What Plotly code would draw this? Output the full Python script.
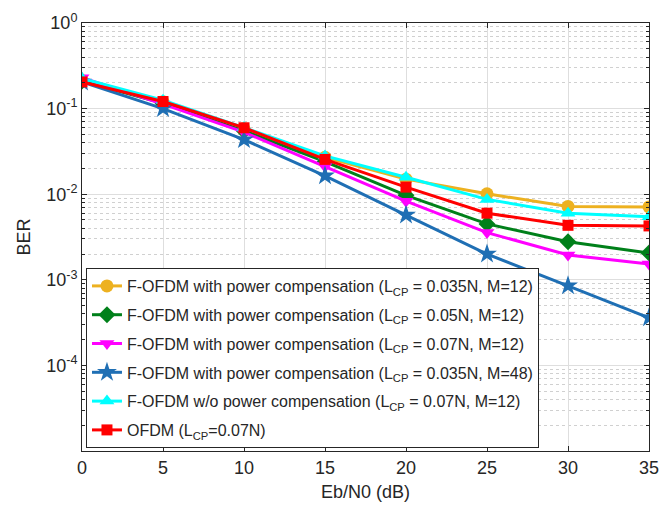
import plotly.graph_objects as go

ebn0 = [0, 5, 10, 15, 20, 25, 30, 35]

ber_fofdm_035_m12 = [0.21, 0.12, 0.058, 0.027, 0.015, 0.0101, 0.0072, 0.0071]
ber_fofdm_05_m12 = [0.21, 0.115, 0.055, 0.024, 0.0097, 0.0045, 0.00278, 0.00206]
ber_fofdm_07_m12 = [0.23, 0.113, 0.053, 0.021, 0.0083, 0.00356, 0.00195, 0.00153]
ber_fofdm_035_m48 = [0.205, 0.1, 0.0434, 0.0164, 0.0057, 0.0020, 0.00085, 0.00036]
ber_fofdm_nocomp_07_m12 = [0.225, 0.125, 0.060, 0.028, 0.0158, 0.0087, 0.0060, 0.00546]
ber_ofdm_07 = [0.205, 0.121, 0.0597, 0.0255, 0.0121, 0.0060, 0.00433, 0.00426]

names = [
    "F-OFDM with power compensation (L<sub>CP</sub> = 0.035N, M=12)",
    "F-OFDM with power compensation (L<sub>CP</sub> = 0.05N, M=12)",
    "F-OFDM with power compensation (L<sub>CP</sub> = 0.07N, M=12)",
    "F-OFDM with power compensation (L<sub>CP</sub> = 0.035N, M=48)",
    "F-OFDM w/o power compensation (L<sub>CP</sub> = 0.07N, M=12)",
    "OFDM (L<sub>CP</sub>=0.07N)",
]
series = [ber_fofdm_035_m12, ber_fofdm_05_m12, ber_fofdm_07_m12,
          ber_fofdm_035_m48, ber_fofdm_nocomp_07_m12, ber_ofdm_07]
colors = ["#EDB120", "#00801A", "#FF00FF", "#1F6FB4", "#00FFFF", "#FF0000"]
symbols = ["circle", "diamond", "triangle-down", "star", "triangle-up", "square"]
sizes = [13, 13, 13, 15, 13, 11]

x_ticks = [0, 5, 10, 15, 20, 25, 30, 35]
y_ticks = [1e-4, 1e-3, 1e-2, 1e-1, 1]
y_ticktext = ["10<sup>-4</sup>", "10<sup>-3</sup>", "10<sup>-2</sup>", "10<sup>-1</sup>", "10<sup>0</sup>"]
y_minor = [m * 10.0 ** e for e in range(-5, 0) for m in range(2, 10)]

FONT = "Liberation Sans, Arial, sans-serif"

fig = go.Figure()
for i, (name, ys, c, s, sz) in enumerate(zip(names, series, colors, symbols, sizes)):
    fig.add_trace(go.Scatter(
        x=ebn0, y=ys, name=name, mode="lines+markers",
        legendgroup=f"g{i}",
        line=dict(color=c, width=3),
        marker=dict(symbol=s, size=sz, color=c),
    ))

axis_common = dict(
    showline=True, linecolor="#262626", linewidth=1, mirror="allticks",
    ticks="inside", tickcolor="#262626", ticklen=5,
    showgrid=True, gridcolor="#DEDEDE", gridwidth=1, zeroline=False,
    tickfont=dict(family=FONT, size=18, color="#262626"),
)

fig.update_xaxes(
    range=[0, 35], tickvals=x_ticks,
    title=dict(text="Eb/N0 (dB)", font=dict(family=FONT, size=18, color="#262626"), standoff=8),
    **axis_common,
)
fig.update_yaxes(
    type="log", range=[-5, 0], tickvals=y_ticks, ticktext=y_ticktext,
    title=dict(text="BER", font=dict(family=FONT, size=18, color="#262626"), standoff=10),
    minor=dict(tickvals=y_minor, ticks="inside", ticklen=3, tickcolor="#262626",
               showgrid=True, gridcolor="#D0D0D0", griddash="dot", gridwidth=1),
    **axis_common,
)

fig.update_layout(
    width=670, height=515,
    margin=dict(l=82, r=11, t=18, b=64),
    paper_bgcolor="white", plot_bgcolor="white",
    font=dict(family=FONT, color="#262626"),
    legend=dict(
        x=0.007, y=0.007, xanchor="left", yanchor="bottom",
        bgcolor="white", bordercolor="#262626", borderwidth=1,
        font=dict(family=FONT, size=16, color="#262626"),
        itemwidth=30, tracegroupgap=5,
    ),
    showlegend=True,
)

fig.write_html(
    "out.html",
    config={"displayModeBar": False},
    post_script="document.body.style.margin='0';document.body.style.overflow='hidden';",
)
